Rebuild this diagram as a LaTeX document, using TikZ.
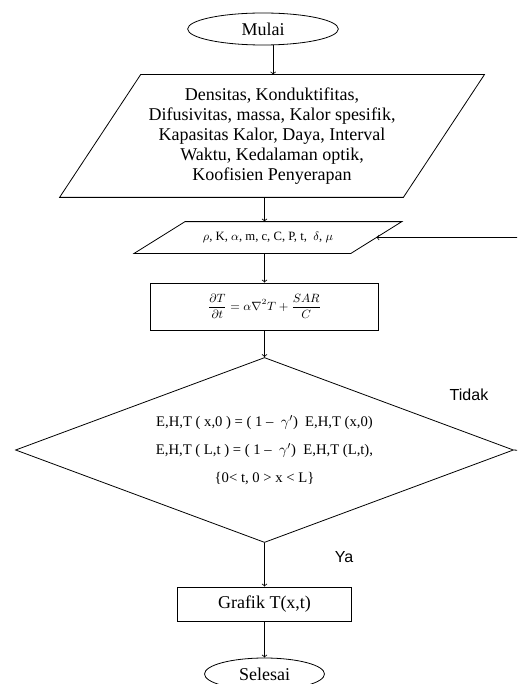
\documentclass[tikz,border=0pt]{standalone}
\usepackage{fontspec}
\setmainfont{Liberation Serif}
\newfontfamily\arialfont{Liberation Sans}
\usetikzlibrary{shapes.geometric}
\tikzset{%
  >=to, % default arrow style
  terminal/.style={draw,ellipse,inner sep=0pt,minimum width=#1,minimum height=24pt},
  io/.style={rectangle,inner sep=0pt,align=center},
  proses/.style={draw,rectangle,inner sep=0pt},
  keputusan/.style={draw,diamond,aspect=2.7,inner sep=0pt,align=center},
  ket/.style={font=\arialfont\fontsize{12}{14}\selectfont}
}
\newcommand{\jajar}[2]{% node, half slant
  \draw ([xshift=#2]#1.north west) -- ([xshift=#2]#1.north east)
    -- ([xshift=-#2]#1.south east) -- ([xshift=-#2]#1.south west) -- cycle;
}

\begin{document}
\begin{tikzpicture}[x=0.75pt,y=-0.75pt,line width=0.6pt,font=\fontsize{13.5}{15}\selectfont]
  \useasboundingbox (0,0) rectangle (517,684);
  \clip (0,0) rectangle (517,684);
  % blocks
  \node[terminal=113pt] (mulai) at (263,29) {Mulai};
  \node[io,minimum width=257.25pt,minimum height=91.5pt] (input) at (272,136)
    {Densitas, Konduktifitas,\\ Difusivitas, massa, Kalor spesifik,\\
     Kapasitas Kalor, Daya, Interval\\ Waktu, Kedalaman\ optik,\\ Koofisien Penyerapan};
  \jajar{input}{30.4pt}
  \node[io,minimum width=162pt,minimum height=23.25pt,font=\fontsize{9.5}{11}\selectfont] (param) at (268,237.5)
    {$\rho$, K, $\alpha$, m, c, C, P, t,\ \ $\delta$, $\mu$};
  \jajar{param}{19.1pt}
  \node[proses,minimum width=171pt,minimum height=35.25pt,font=\fontsize{9}{11}\selectfont] (model) at (264.5,306.5)
    {$\displaystyle\frac{\partial T}{\partial t} = \alpha\nabla^2 T + \frac{SAR}{C}$};
  \node[keputusan,minimum width=373.5pt,minimum height=138.75pt,font=\fontsize{11}{13}\selectfont] (syarat) at (264.5,450)
    {E,H,T ( x,0 ) = ( 1 – \ $\gamma'$)\ \ E,H,T (x,0)\\[8pt]
     E,H,T ( L,t ) = ( 1 – \ $\gamma'$)\ \ E,H,T (L,t),\\[8pt]
     \{0< t, 0 > x < L\}};
  \node[proses,minimum width=131pt,minimum height=25.5pt] (grafik) at (264.5,604) {Grafik T(x,t)};
  \node[terminal=90pt] (selesai) at (264.5,674) {Selesai};
  % labels
  \node[ket] (tidak) at (469,395) {Tidak};
  \node[ket] (ya) at (344,557) {Ya};
  \coordinate (balik) at (540,452);
  % arrows
  \draw[->] (mulai.-58) -- (mulai.-58 |- input.north);
  \draw[->] (input.south -| model) -- (param.north -| model);
  \draw[->] (param.south -| model) -- (model.north);
  \draw[->] (model) -- (syarat);
  \draw[->] (syarat) -- (grafik);
  \draw[->] (grafik) -- (selesai);
  \draw[->] (syarat.east) -- (balik) |- (param.east);
\end{tikzpicture}
\end{document}
